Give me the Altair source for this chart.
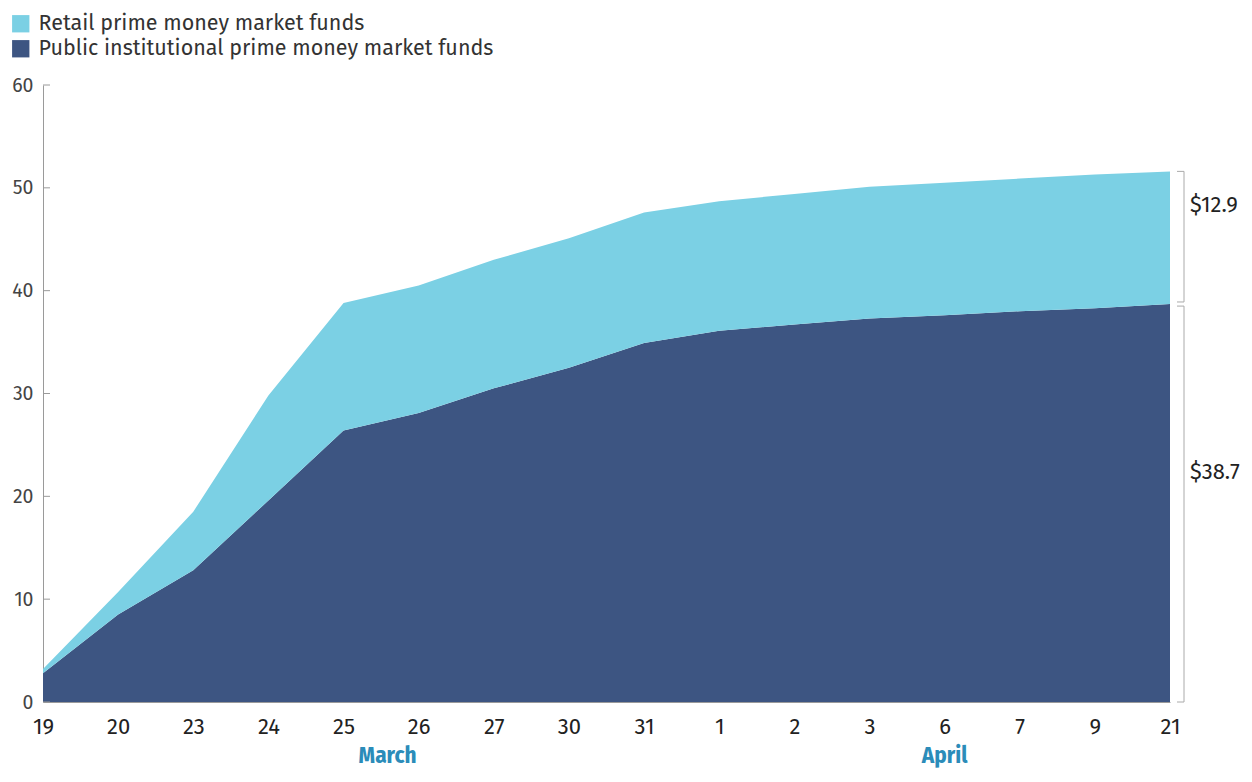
import altair as alt
import pandas as pd

dates = ["19", "20", "23", "24", "25", "26", "27", "30", "31", "1", "2", "3", "6", "7", "9", "21"]
institutional = [2.8, 8.5, 12.8, 19.6, 26.4, 28.1, 30.5, 32.5, 34.9, 36.1, 36.7, 37.3, 37.6, 38.0, 38.3, 38.7]
retail = [0.4, 2.2, 5.7, 10.2, 12.4, 12.4, 12.5, 12.6, 12.7, 12.6, 12.7, 12.8, 12.9, 12.9, 13.0, 12.9]
series_names = ["Retail prime money market funds", "Public institutional prime money market funds"]
series_colors = ["#7bd0e4", "#3d5582"]
y_ticks = [0, 10, 20, 30, 40, 50, 60]
bracket_labels = ["$12.9", "$38.7"]
months = ["March", "April"]
month_anchor = ["25", "6"]

W, H = 1127, 617
FONT = "Fira Sans, Open Sans, Noto Sans, sans-serif"
NARROW = "Fira Sans Condensed, Liberation Sans Narrow, sans-serif"

rows = []
for i, d in enumerate(dates):
    rows.append({"date": d, "series": series_names[1], "value": institutional[i], "rank": 0})
    rows.append({"date": d, "series": series_names[0], "value": retail[i], "rank": 1})
df = pd.DataFrame(rows)

xscale = alt.Scale(type="point", padding=0, domain=dates)
yscale = alt.Scale(domain=[0, 60], nice=False)

area = alt.Chart(df).mark_area(opacity=1, interpolate="linear").encode(
    x=alt.X("date:N", sort=dates, scale=xscale, title=None),
    y=alt.Y("value:Q", stack="zero", scale=yscale, title=None,
            axis=alt.Axis(values=y_ticks)),
    color=alt.Color("series:N", scale=alt.Scale(domain=series_names, range=series_colors),
                    legend=alt.Legend(title=None, orient="none", legendX=-33, legendY=-72,
                                      symbolType="square", symbolSize=300, symbolStrokeWidth=0,
                                      labelFontSize=21.5, labelColor="#333333", labelFont=FONT,
                                      rowPadding=2, labelOffset=7, labelLimit=800)),
    order=alt.Order("rank:Q", sort="ascending"),
)

ticks_df = pd.DataFrame({"v": y_ticks})
ticks = alt.Chart(ticks_df).mark_rule(color="#9a9a9a", strokeWidth=1).encode(
    y=alt.Y("v:Q", scale=yscale, title=None),
    x=alt.value(0), x2=alt.value(7),
)

total_end = institutional[-1] + retail[-1]
inst_end = institutional[-1]
gap = 0.2
br_lo = [inst_end + gap, 0]
br_hi = [total_end, inst_end - gap]
br_df = pd.DataFrame({"lo": br_lo, "hi": br_hi, "label": bracket_labels,
                      "mid": [(a + b) / 2 for a, b in zip(br_lo, br_hi)]})
vert = alt.Chart(br_df).mark_rule(color="#aaaaaa", strokeWidth=1).encode(
    y=alt.Y("lo:Q", scale=yscale, title=None), y2="hi:Q",
    x=alt.value(W + 14),
)
cap_df = pd.DataFrame({"v": br_lo + br_hi})
caps = alt.Chart(cap_df).mark_rule(color="#aaaaaa", strokeWidth=1).encode(
    y=alt.Y("v:Q", scale=yscale, title=None),
    x=alt.value(W + 7), x2=alt.value(W + 14),
)
br_text = alt.Chart(br_df).mark_text(align="left", baseline="middle", fontSize=22,
                                     font=FONT, color="#222222", dy=-32).encode(
    y=alt.Y("mid:Q", scale=yscale, title=None),
    x=alt.value(W + 20),
    text="label:N",
)

m_df = pd.DataFrame({"month": months, "date": month_anchor})
march = alt.Chart(m_df.iloc[[0]]).mark_text(align="center", baseline="alphabetic", fontSize=23,
                                            fontWeight="bold", font=NARROW, color="#2b8cb9", dx=44).encode(
    x=alt.X("date:N", sort=dates, scale=xscale, title=None), y=alt.value(H + 61), text="month:N")
april = alt.Chart(m_df.iloc[[1]]).mark_text(align="center", baseline="alphabetic", fontSize=23,
                                            fontWeight="bold", font=NARROW, color="#2b8cb9", dx=0).encode(
    x=alt.X("date:N", sort=dates, scale=xscale, title=None), y=alt.value(H + 61), text="month:N")

chart = alt.layer(area, ticks, vert, caps, br_text, march, april).properties(
    width=W, height=H,
    autosize=alt.AutoSizeParams(type="none"),
    padding={"left": 35, "top": 77, "right": 72, "bottom": 68},
    background="white",
).configure_view(stroke=None).configure_axisX(
    labelAngle=0, ticks=False, domainColor="#9a9a9a", labelFontSize=22, labelColor="#222222",
    labelPadding=14, labelFont=FONT, grid=False,
).configure_axisY(
    ticks=False, domainColor="#9a9a9a", labelFontSize=19.5, labelColor="#444444",
    labelPadding=10, labelFont=FONT, grid=False,
)

chart.save("out.html", embed_options={"renderer": "svg", "actions": False})
